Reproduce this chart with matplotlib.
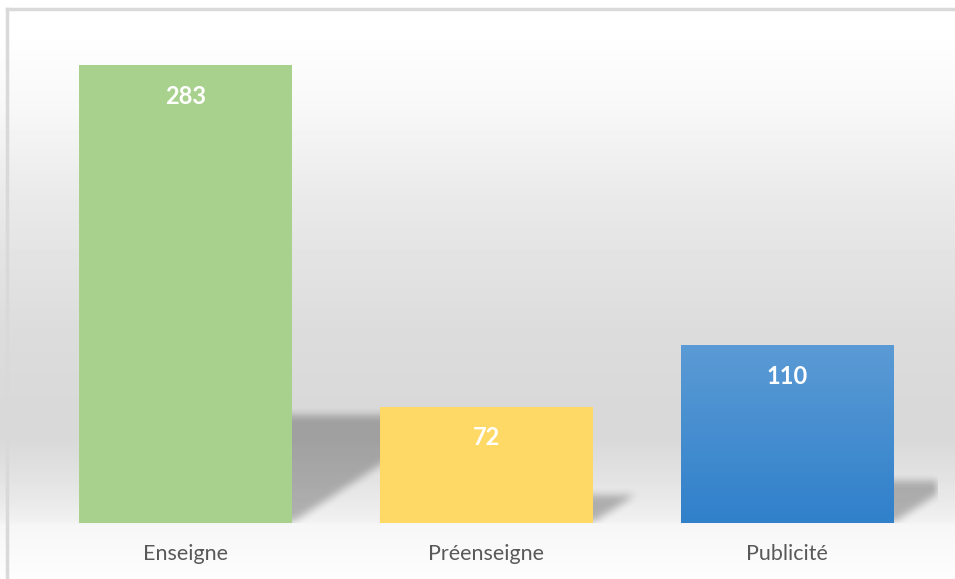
import numpy as np
import matplotlib
matplotlib.use('Agg')
import matplotlib.pyplot as plt
from matplotlib.path import Path
from matplotlib.colors import to_rgb

# data
categories = ['Enseigne', 'Préenseigne', 'Publicité']
values = [283, 72, 110]
bar_colors = ['#A9D18E', '#FFD966', '#5B9BD5']

W, H = 955, 579
fig = plt.figure(figsize=(W / 100, H / 100), dpi=100)

# ---------------------------------------------
# chart background: grey vertical gradient + light border
bg = fig.add_axes([0, 0, 1, 1])
stops_y = [0, 9, 40, 110, 200, 330, 400, 440, 460, 500, 518, 524, 579]
stops_g = [255, 255, 254, 247, 233, 220, 217, 217, 222, 233, 240, 246, 253]
rows = np.interp(np.arange(H), stops_y, stops_g) / 255
bg.imshow(np.repeat(rows[:, None], 2, axis=1), cmap='gray', vmin=0, vmax=1,
          aspect='auto', extent=[0, 1, 0, 1], origin='upper')
bg.plot([6.5 / W, 6.5 / W], [0, 1 - 9 / H], color='#d9d9d9', lw=2.5, clip_on=False)
bg.plot([6.5 / W, 1], [1 - 9 / H, 1 - 9 / H], color='#d9d9d9', lw=2.5, clip_on=False)
bg.set_xlim(0, 1)
bg.set_ylim(0, 1)
bg.axis('off')

# ---------------------------------------------
# main axes
ymax = 300
ax = fig.add_axes([35 / W, (H - 523) / H, 902.5 / W, ymax * 1.618 / H])
ax.patch.set_alpha(0)
bar_w = 0.707

# soft perspective shadows behind the bars
nx, ny = 902, 485
xs = np.linspace(-0.5, 2.5, nx)
ys = np.linspace(0, ymax, ny)
XX, YY = np.meshgrid(xs, ys)
pts = np.column_stack([XX.ravel(), YY.ravel()])
mask = np.zeros(XX.size)
for i, v in enumerate(values):
    xl, xr = i - bar_w / 2, i + bar_w / 2
    dx, dy = v * 0.00194, v * 0.236
    poly = Path([(xl, 0), (xr, 0), (xr + dx, dy), (xl + dx, dy)])
    mask = np.maximum(mask, poly.contains_points(pts))
mask = mask.reshape(ny, nx)


def blur(a, k):
    kern = np.ones(k) / k
    a = np.apply_along_axis(lambda r: np.convolve(r, kern, mode='same'), 1, a)
    a = np.apply_along_axis(lambda c: np.convolve(c, kern, mode='same'), 0, a)
    return a


mask = blur(blur(mask, 9), 9)
shadow = np.zeros((ny, nx, 4))
shadow[..., 3] = mask * 0.26
ax.imshow(shadow, extent=[-0.5, 2.5, 0, ymax], origin='lower', aspect='auto', zorder=1)

bars = ax.bar(range(len(values)), values, width=bar_w, color=bar_colors, zorder=2)

# blue bar has a vertical gradient
top_c = np.array(to_rgb('#5B9BD5'))
bot_c = np.array(to_rgb('#3080CA'))
t = np.linspace(0, 1, 100)[:, None]
grad = (top_c * (1 - t) + bot_c * t)[:, None, :]
b = bars[2]
im = ax.imshow(grad, extent=[b.get_x(), b.get_x() + b.get_width(), 0, b.get_height()],
               aspect='auto', origin='upper', zorder=2.5)
im.set_clip_path(b)

for i, v in enumerate(values):
    ax.text(i, v - 31 / 1.618, str(v), ha='center', va='center', color='white',
            fontweight='bold', fontfamily='Lato', fontsize=17, zorder=3)

ax.set_xlim(-0.5, 2.5)
ax.set_ylim(0, ymax)
ax.set_xticks(range(len(categories)))
ax.set_xticklabels(categories, fontfamily='Lato')
ax.tick_params(axis='x', length=0, pad=15, labelsize=15.5, labelcolor='#595959')
ax.set_yticks([])
for s in ax.spines.values():
    s.set_visible(False)

fig.savefig('out.png', dpi=100)
